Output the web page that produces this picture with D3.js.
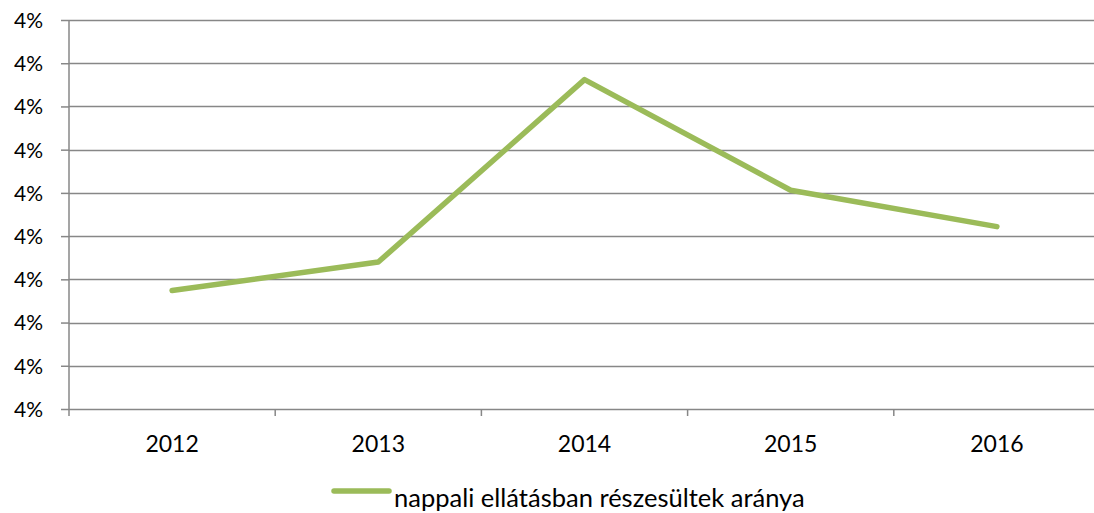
<!DOCTYPE html>
<html>
<head>
<meta charset="utf-8">
<script src="https://cdn.jsdelivr.net/npm/d3@7"></script>
<style>
  html, body { margin: 0; padding: 0; background: #ffffff; }
  svg { display: block; }
  text { font-family: Lato, "Open Sans", sans-serif; fill: #000; }
</style>
</head>
<body>
<svg id="chart" width="1094" height="513"></svg>
<script>
// Share of people receiving day care, by year
const years = ["2012", "2013", "2014", "2015", "2016"];
const shares = [0.03937, 0.03970, 0.04181, 0.04053, 0.04011];
const yTicks = [0.0380, 0.0385, 0.0390, 0.0395, 0.0400, 0.0405, 0.0410, 0.0415, 0.0420, 0.0425];
const seriesName = "nappali ellátásban részesültek aránya";

const W = 1094, H = 513;
const margin = { top: 20, right: -6, bottom: 104, left: 69 };
const svg = d3.select("#chart");

const x = d3.scaleBand().domain(years).range([margin.left, W - margin.right]);
const y = d3.scaleLinear().domain([yTicks[0], yTicks[yTicks.length - 1]])
  .range([H - margin.bottom, margin.top]);

const gridColor = "#878787";
const fmt = d3.format(".0%");

// short ticks left of the value axis, with labels
const yAxis = svg.append("g")
  .attr("transform", `translate(${margin.left},0)`)
  .call(d3.axisLeft(y).tickValues(yTicks).tickFormat(fmt)
    .tickSize(8).tickPadding(18));
yAxis.select(".domain").remove();
yAxis.selectAll(".tick line").attr("stroke", gridColor).attr("stroke-width", 1.5);
yAxis.selectAll(".tick text").attr("font-size", 21).attr("dy", "0.35em").style("font-family", "Lato, sans-serif");

// horizontal gridlines
svg.append("g").selectAll("line.grid").data(yTicks).join("line")
  .attr("x1", margin.left).attr("x2", W)
  .attr("y1", d => Math.round(y(d)) + 0.5).attr("y2", d => Math.round(y(d)) + 0.5)
  .attr("stroke", gridColor).attr("stroke-width", 1.5);

// vertical value axis
svg.append("line")
  .attr("x1", margin.left).attr("x2", margin.left)
  .attr("y1", y(yTicks[yTicks.length - 1])).attr("y2", y(yTicks[0]) + 7)
  .attr("stroke", gridColor).attr("stroke-width", 1.5);

// category axis ticks at band edges
const bottomY = y(yTicks[0]);
const edges = years.map(d => x(d)).concat([x(years[years.length - 1]) + x.bandwidth()]);
svg.append("g").selectAll("line").data(edges.slice(1)).join("line")
  .attr("x1", d => d).attr("x2", d => d)
  .attr("y1", bottomY).attr("y2", bottomY + 7)
  .attr("stroke", gridColor).attr("stroke-width", 1.5);

svg.append("g").selectAll("text").data(years).join("text")
  .attr("x", d => x(d) + x.bandwidth() / 2)
  .attr("y", bottomY + 43)
  .attr("text-anchor", "middle")
  .attr("font-size", 23)
  .text(d => d);

// data line
const line = d3.line()
  .x((d, i) => x(years[i]) + x.bandwidth() / 2)
  .y(d => y(d));
svg.append("path")
  .datum(shares)
  .attr("d", line)
  .attr("fill", "none")
  .attr("stroke", "#9BBB59")
  .attr("stroke-width", 5.5)
  .attr("stroke-linejoin", "round")
  .attr("stroke-linecap", "round");

// legend
const legend = svg.append("g");
legend.append("line")
  .attr("x1", 334).attr("x2", 389).attr("y1", 491).attr("y2", 491)
  .attr("stroke", "#9BBB59").attr("stroke-width", 5.5).attr("stroke-linecap", "round");
legend.append("text")
  .attr("x", 394).attr("y", 507)
  .attr("font-size", 25.5)
  .text(seriesName);
</script>
</body>
</html>
